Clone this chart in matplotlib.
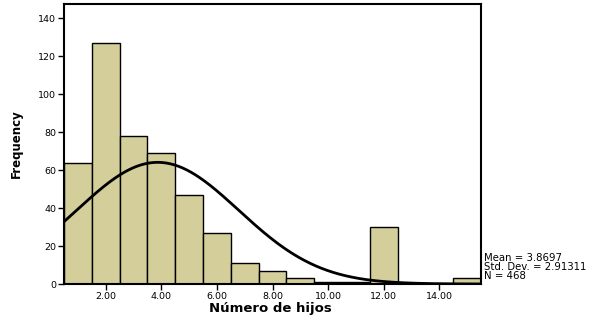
import numpy as np
import matplotlib.pyplot as plt

# number of children, frequency per value
hijos = [1, 2, 3, 4, 5, 6, 7, 8, 9, 10, 11, 12, 13, 14, 15]
freq = [64, 127, 78, 69, 47, 27, 11, 7, 3, 1, 1, 30, 0, 0, 3]
mean = 3.8697
sd = 2.91311
n = 468
xticks = [2, 4, 6, 8, 10, 12, 14]
yticks = [0, 20, 40, 60, 80, 100, 120, 140]

plt.rcParams['font.family'] = ['DejaVu Sans']

fig = plt.figure(figsize=(6.05, 3.15), dpi=100)
ax = fig.add_axes([64/605, 31/315, 417/605, 280/315])

ax.bar(hijos, freq, width=1.0, color='#d3ce9a', edgecolor='black', linewidth=1.0)

xs = np.linspace(0.5, 15.5, 300)
curve = n * 1.0 / (sd * np.sqrt(2 * np.pi)) * np.exp(-(xs - mean) ** 2 / (2 * sd ** 2))
ax.plot(xs, curve, color='black', linewidth=2)

ax.set_xlim(0.5, 15.5)
ax.set_ylim(0, 147.5)
ax.set_xticks(xticks)
ax.set_xticklabels(['%.2f' % v for v in xticks])
ax.set_yticks(yticks)
ax.tick_params(labelsize=6.8, length=4, width=1, direction='out', pad=1.5)
for s in ax.spines.values():
    s.set_linewidth(1.5)

ax.set_xlabel('Número de hijos', fontsize=9.5, fontweight='bold')
ax.xaxis.set_label_coords(0.495, -0.086)
ax.xaxis.label.set_va('center')
ax.set_ylabel('Frequency', fontsize=8.5, fontweight='bold', labelpad=11)

fig.text(484/605, 1 - 267/315,
         'Mean = %.4f\nStd. Dev. = %.5f\nN = %d' % (mean, sd, n),
         fontsize=7.3, va='center', ha='left', linespacing=0.85)

fig.savefig('out.png', dpi=100)
